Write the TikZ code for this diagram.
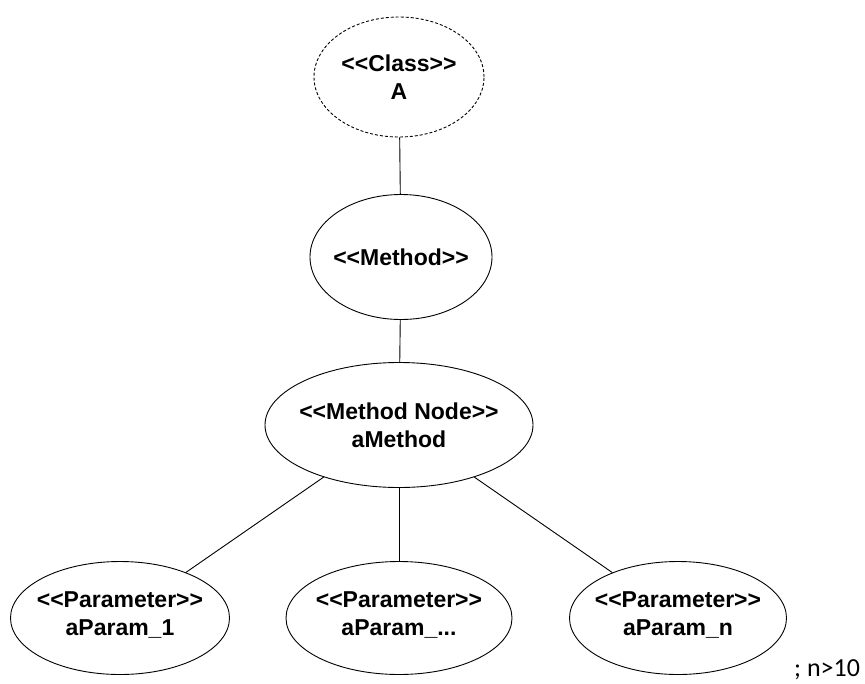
\documentclass[tikz,border=0pt]{standalone}
\usepackage{fontspec}
\newfontfamily\lblfont{Liberation Sans}
\newfontfamily\notefont{Carlito}
\usetikzlibrary{shapes.geometric}
\begin{document}
\begin{tikzpicture}[x=1pt, y=-1pt,
  oval/.style={ellipse, draw, line width=0.9pt, inner sep=0pt},
  dashedoval/.style={oval, dash pattern=on 3pt off 2pt},
  lbl/.style={font=\lblfont\bfseries\fontsize{23}{28}\selectfont, align=center, inner sep=0pt},
  link/.style={draw, line width=0.9pt}]
\useasboundingbox (0,0) rectangle (865,683);

% ellipses
\node[dashedoval, minimum width=170pt, minimum height=120pt] (cls) at (399,77) {};
\node[oval, minimum width=182pt, minimum height=125pt] (meth) at (401,257) {};
\node[oval, minimum width=268pt, minimum height=125pt] (mnode) at (399,425) {};
\node[oval, minimum width=219pt, minimum height=113pt] (p1) at (120,618) {};
\node[oval, minimum width=226pt, minimum height=113pt] (pmid) at (399,618) {};
\node[oval, minimum width=217pt, minimum height=113pt] (pn) at (678,618) {};

% labels
\node[lbl] (cls-t) at (cls) {<{}<Class>{}>\\A};
\node[lbl] (meth-t) at (meth) {<{}<Method>{}>};
\node[lbl] (mnode-t) at (mnode) {<{}<Method Node>{}>\\aMethod};
\node[lbl] (p1-t) at ([yshift=3pt]p1.center) {<{}<Parameter>{}>\\aParam\_1};
\node[lbl] (pmid-t) at ([yshift=3pt]pmid.center) {<{}<Parameter>{}>\\aParam\_...};
\node[lbl] (pn-t) at ([yshift=3pt]pn.center) {<{}<Parameter>{}>\\aParam\_n};

% note on the number of parameters
\node[font=\notefont\fontsize{26}{31}\selectfont, anchor=base west, inner sep=0pt] (note) at (794,676) {; n>10};

% connectors
\path[link] (cls) -- (meth);
\path[link] (meth) -- (mnode);
\path[link] (mnode) -- (p1);
\path[link] (mnode) -- (pmid);
\path[link] (mnode) -- (pn);
\end{tikzpicture}
\end{document}
